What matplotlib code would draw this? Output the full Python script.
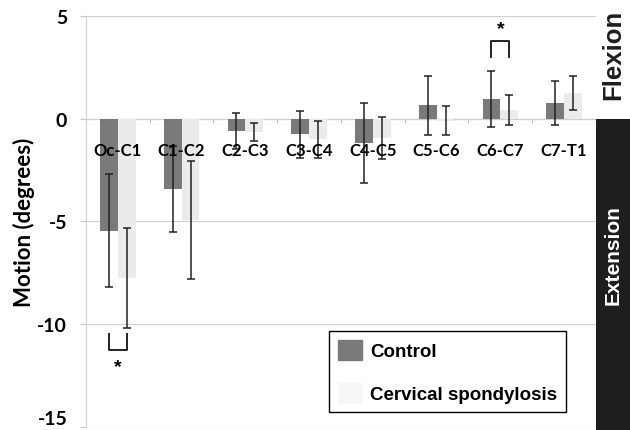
import matplotlib
matplotlib.use("Agg")
import matplotlib.pyplot as plt
import matplotlib.transforms as mtrans
from matplotlib.patches import Rectangle, Patch
import numpy as np

# motion per segment (degrees), mean and SD
segments = ['Oc-C1', 'C1-C2', 'C2-C3', 'C3-C4', 'C4-C5', 'C5-C6', 'C6-C7', 'C7-T1']
control_mean = [-5.45, -3.43, -0.58, -0.75, -1.18, 0.65, 0.95, 0.78]
control_sd = [2.75, 2.10, 0.88, 1.15, 1.97, 1.45, 1.35, 1.07]
cs_mean = [-7.75, -4.93, -0.63, -1.00, -0.93, -0.10, 0.43, 1.27]
cs_sd = [2.42, 2.87, 0.43, 0.90, 1.02, 0.70, 0.73, 0.83]
y_ticks = [5, 0, -5, -10, -15]
significant = ['Oc-C1', 'C6-C7']

LABEL_FONT = 'Lato'
BOX_FONT = 'Liberation Sans'
C_CTRL = '#7a7a7a'
C_CS = '#ebebeb'

fig = plt.figure(figsize=(6.3, 4.31), dpi=100)
ax = fig.add_axes([0.1365, 0.00696, 0.8095, 0.9536])

x = np.arange(len(segments))
w = 0.28
err_kw = dict(ecolor='#222222', elinewidth=1.1, capsize=3, capthick=1.1)
ax.bar(x - w / 2, control_mean, w, yerr=control_sd, color=C_CTRL,
       error_kw=err_kw, zorder=2)
ax.bar(x + w / 2, cs_mean, w, yerr=cs_sd, color=C_CS,
       error_kw=err_kw, zorder=2)

ax.set_xlim(-0.5, len(segments) - 0.5)
ax.set_ylim(-15, 5)
ax.set_yticks(y_ticks)
ax.set_yticklabels([str(t) for t in y_ticks], fontfamily=LABEL_FONT,
                   fontweight='bold', fontsize=14)
ax.get_yticklabels()[-1].set_va('bottom')
ax.tick_params(axis='y', length=4.5, color='#c8c8c8', pad=9)
ax.yaxis.grid(True, color='#cfcfcf', lw=0.8, zorder=0)

# x axis sits at zero: boundary ticks, labels drawn over the bars
ax.spines['bottom'].set_position(('data', 0))
ax.spines['bottom'].set_color('#9a9a9a')
ax.spines['bottom'].set_zorder(1)
ax.spines['left'].set_color('#d0d0d0')
ax.spines['top'].set_visible(False)
ax.spines['right'].set_visible(False)
ax.set_xticks(np.arange(len(segments) + 1) - 0.5)
ax.set_xticklabels([])
ax.tick_params(axis='x', which='major', length=3, color='#bbbbbb')
lab_trans = ax.transData + mtrans.ScaledTranslation(0, -31 / 100, fig.dpi_scale_trans)
for i, seg in enumerate(segments):
    ax.text(i, 0, seg, transform=lab_trans, ha='center', va='center',
            fontfamily=LABEL_FONT, fontweight='bold', fontsize=12, zorder=5)

ax.set_ylabel('Motion (degrees)', fontfamily=LABEL_FONT, fontweight='bold',
              fontsize=16, labelpad=2)

# significance brackets
for seg in significant:
    i = segments.index(seg)
    a, b = i - w / 2, i + w / 2
    if control_mean[i] < 0:
        top = min(control_mean[i] - control_sd[i], cs_mean[i] - cs_sd[i]) - 0.3
        ax.plot([a, a, b, b], [top, top - 0.8, top - 0.8, top], color='#222222', lw=1.4)
        ax.text(i, top - 1.6, '*', ha='center', va='center', fontsize=14,
                fontweight='bold', fontfamily=BOX_FONT)
    else:
        bot = max(control_mean[i] + control_sd[i], cs_mean[i] + cs_sd[i]) + 0.7
        ax.plot([a, a, b, b], [bot, bot + 0.8, bot + 0.8, bot], color='#222222', lw=1.4)
        ax.text(i, bot + 1.4, '*', ha='center', va='center', fontsize=14,
                fontweight='bold', fontfamily=BOX_FONT)

handles = [Patch(color=C_CTRL, label='Control'),
           Patch(color='#f7f7f7', label='Cervical spondylosis')]
leg = ax.legend(handles=handles, loc='upper left',
                bbox_to_anchor=(329 / 630, 1 - 332 / 431),
                bbox_transform=fig.transFigure, borderaxespad=0,
                prop=dict(family=BOX_FONT, weight='bold', size=13.5),
                fancybox=False, edgecolor='black', framealpha=1,
                handlelength=1.28, handleheight=1.23, handletextpad=0.4,
                labelspacing=1.2, borderpad=0.5)
leg.get_frame().set_linewidth(1.0)

# flexion / extension side panel
trans = mtrans.blended_transform_factory(fig.transFigure, ax.transData)
x_right = ax.get_position().x1
fig.add_artist(Rectangle((x_right, -20), 1 - x_right, 20, transform=trans,
                         facecolor='#1e1e1e', edgecolor='none', clip_on=False))
fig.text((x_right + 1) / 2, 3.15, 'Flexion', transform=trans, rotation=90,
         ha='center', va='center', fontsize=18.5, fontweight='bold',
         fontfamily=BOX_FONT, color='#1e1e1e')
fig.text((x_right + 1) / 2, -6.6, 'Extension', transform=trans, rotation=90,
         ha='center', va='center', fontsize=15, fontweight='bold',
         fontfamily=BOX_FONT, color='white')

fig.savefig('out.png', dpi=100)
